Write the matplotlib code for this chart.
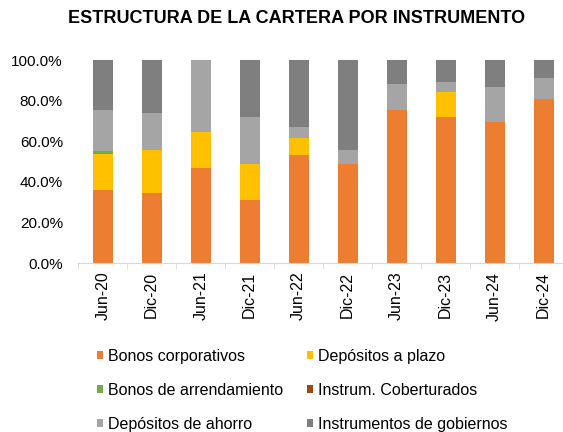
import numpy as np
import matplotlib
matplotlib.use("Agg")
import matplotlib.pyplot as plt
from matplotlib.patches import Patch

plt.rcParams['font.family'] = ['Liberation Sans', 'DejaVu Sans']

periodos = ['Jun-20', 'Dic-20', 'Jun-21', 'Dic-21', 'Jun-22',
            'Dic-22', 'Jun-23', 'Dic-23', 'Jun-24', 'Dic-24']

# participacion (%) por instrumento
bonos_corp = [36.1, 34.8, 46.8, 31.0, 53.2, 48.8, 75.3, 72.2, 69.7, 80.6]
dep_plazo = [17.6, 20.9, 17.8, 17.8, 8.2, 0.0, 0.0, 12.0, 0.0, 0.0]
bonos_arrend = [1.3, 0.0, 0.0, 0.0, 0.0, 0.0, 0.0, 0.0, 0.0, 0.0]
instr_cobert = [0.0, 0.0, 0.0, 0.0, 0.0, 0.0, 0.0, 0.0, 0.0, 0.0]
dep_ahorro = [20.3, 18.4, 35.4, 23.4, 5.6, 6.9, 12.7, 4.9, 17.0, 10.5]
instr_gob = [24.7, 25.9, 0.0, 27.8, 33.0, 44.3, 12.0, 10.9, 13.3, 8.9]

series = [
    ('Bonos corporativos', bonos_corp, '#ED7D31'),
    ('Depósitos a plazo', dep_plazo, '#FFC000'),
    ('Bonos de arrendamiento', bonos_arrend, '#70AD47'),
    ('Instrum. Coberturados', instr_cobert, '#9E480E'),
    ('Depósitos de ahorro', dep_ahorro, '#A5A5A5'),
    ('Instrumentos de gobiernos', instr_gob, '#7F7F7F'),
]

fig = plt.figure(figsize=(5.63, 4.32), dpi=100)
ax = fig.add_axes([0.139, 0.3905, 0.870, 0.4706])

x = np.arange(len(periodos))
bottom = np.zeros(len(periodos))
handles = []
for nombre, vals, color in series:
    vals = np.array(vals) / 100.0
    ax.bar(x, vals, 0.41, bottom=bottom, color=color, edgecolor='none')
    bottom += vals
    handles.append(Patch(facecolor=color, label=nombre))

ax.set_xlim(-0.5, len(periodos) - 0.5)
ax.set_ylim(0, 1)
ax.set_yticks(np.arange(0, 1.01, 0.2))
ax.set_yticklabels(['%.1f%%' % (v * 100) for v in np.arange(0, 1.01, 0.2)])
ax.set_xticks(x)
ax.set_xticklabels(periodos, rotation=90)
ax.set_xticks(np.arange(-0.5, len(periodos), 1), minor=True)

for s in ['top', 'right', 'left']:
    ax.spines[s].set_visible(False)
ax.spines['bottom'].set_color('#D9D9D9')
ax.tick_params(axis='y', length=0, pad=11, labelsize=11)
ax.tick_params(axis='x', which='major', length=0, pad=6, labelsize=11.5)
ax.tick_params(axis='x', which='minor', length=4, color='#D9D9D9')

fig.text(0.526, 0.958, 'ESTRUCTURA DE LA CARTERA POR INSTRUMENTO',
         ha='center', va='center', fontsize=13, fontweight='bold')

# orden por filas como en el original
orden = [0, 2, 4, 1, 3, 5]
fig.legend(handles=[handles[i] for i in orden], loc='upper left',
           bbox_to_anchor=(0.172, 0.193),
           ncol=2, frameon=False, fontsize=11.5, handlelength=0.38,
           handleheight=0.38, handletextpad=0.3, labelspacing=1.19,
           columnspacing=1.5, borderaxespad=0, borderpad=0)

fig.savefig('out.png', dpi=100)
